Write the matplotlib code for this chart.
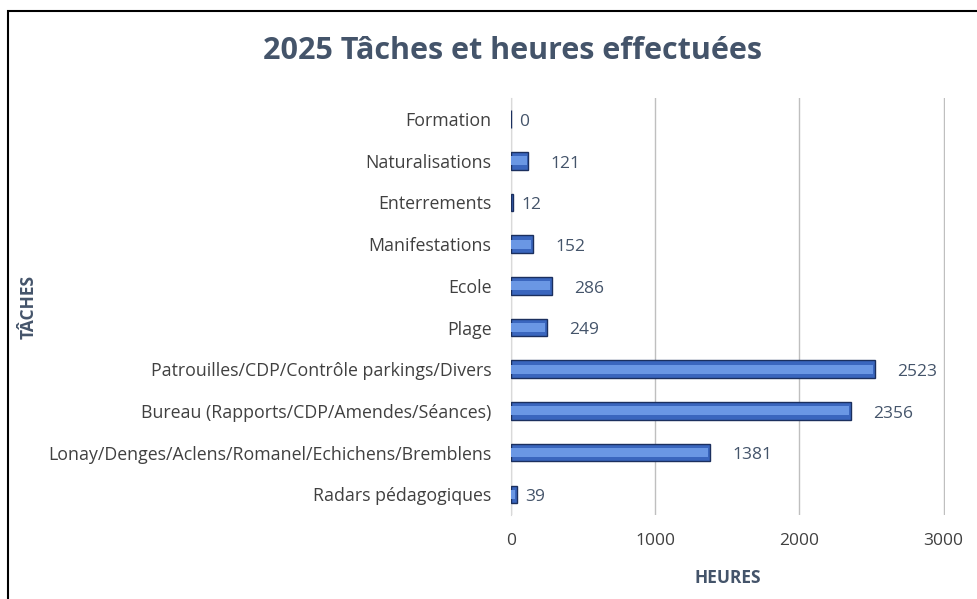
import matplotlib.pyplot as plt
from matplotlib.patches import Rectangle

plt.rcParams['font.family'] = ['Open Sans', 'DejaVu Sans']

# Données
taches = ['Formation', 'Naturalisations', 'Enterrements', 'Manifestations', 'Ecole', 'Plage',
          'Patrouilles/CDP/Contrôle parkings/Divers', 'Bureau (Rapports/CDP/Amendes/Séances)',
          'Lonay/Denges/Aclens/Romanel/Echichens/Bremblens', 'Radars pédagogiques']
heures = [0, 121, 12, 152, 286, 249, 2523, 2356, 1381, 39]
ticks_x = [0, 1000, 2000, 3000]

texte = '#404040'
titre_col = '#44546A'

fig = plt.figure(figsize=(9.77, 5.99), dpi=100)
ax = fig.add_axes([0.523, 0.140, 0.444, 0.696])

pos = list(range(len(taches)))[::-1]

# barres "3D" : base + reflet plus clair
ax.barh(pos, heures, height=0.42, color='#3A66BE', edgecolor='#1B2F5E', linewidth=1.0, zorder=3)
ax.barh(pos, [max(h - 12, 0) for h in heures], height=0.22, color='#6A97E4', linewidth=0, zorder=4)

for p, h in zip(pos, heures):
    decal = 6 if h < 100 else 16
    ax.annotate(str(h), (h, p), xytext=(decal, -2), textcoords='offset points',
                va='center', ha='left', fontsize=12.5, color=titre_col)

ax.set_xlim(0, 3008)
ax.set_ylim(-0.5, len(taches) - 0.5)
ax.set_xticks(ticks_x)
ax.set_xticklabels([str(t) for t in ticks_x], fontsize=12.5, color=texte)
ax.set_yticks(pos)
ax.set_yticklabels(taches, fontsize=12.8, color=texte)
ax.tick_params(axis='both', length=0)
ax.tick_params(axis='x', pad=13)
ax.tick_params(axis='y', pad=14)

ax.grid(axis='x', color='#BFBFBF', linewidth=1.0, zorder=0)
for s in ['top', 'right', 'bottom']:
    ax.spines[s].set_visible(False)
ax.spines['left'].set_color('#D9D9D9')

fig.text(0.523 + 0.444 / 2, 0.035, 'HEURES', ha='center', va='center',
         fontsize=12.5, fontweight='bold', color=titre_col)
fig.text(0.029, 0.487, 'TÂCHES', rotation=90, ha='center', va='center',
         fontsize=12.5, fontweight='bold', color=titre_col)
fig.text(0.525, 0.915, '2025 Tâches et heures effectuées', ha='center', va='center',
         fontsize=22, fontweight='bold', color=titre_col)

# cadre du graphique (coupé à droite et en bas)
fig.patches.append(Rectangle((8 / 977, -0.1), 1.1, 1.1 - 11 / 599,
                             transform=fig.transFigure, fill=False,
                             edgecolor='black', linewidth=1.5))

fig.savefig('out.png', dpi=100)
